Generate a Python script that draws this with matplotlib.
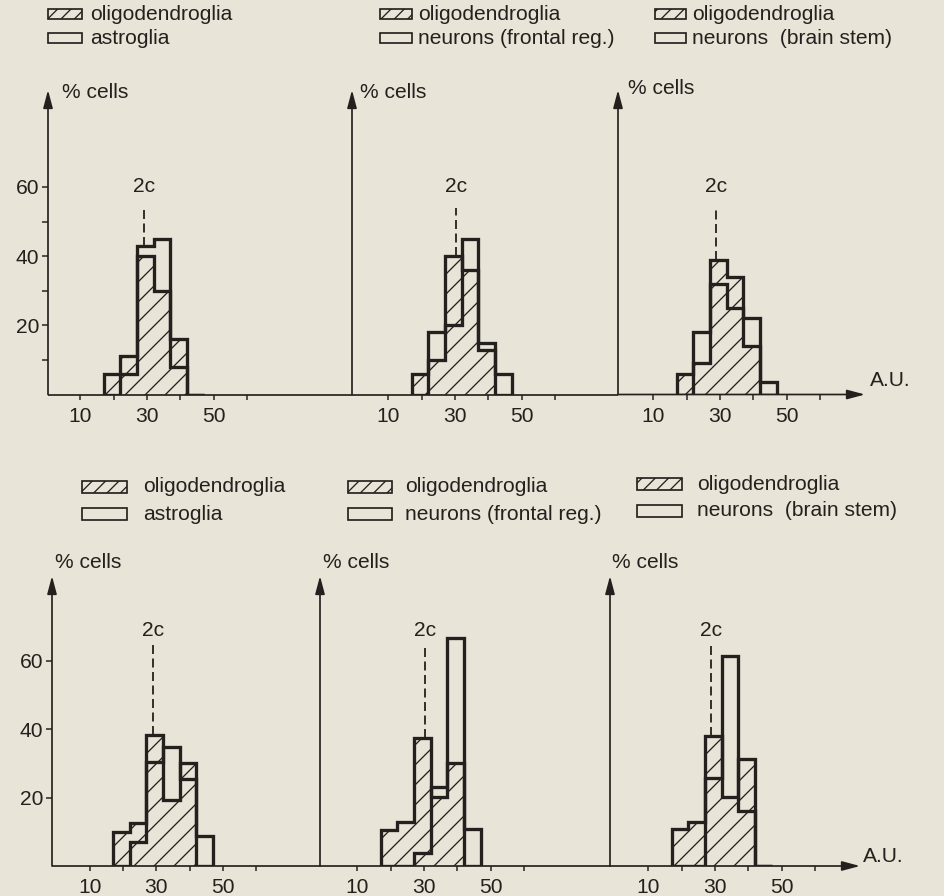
import matplotlib
matplotlib.use('Agg')
import matplotlib.pyplot as plt
from matplotlib.patches import Rectangle
import numpy as np

# ---------------- data ----------------
bin_edges = [17, 22, 27, 32, 37, 42, 47]          # A.U. (DNA content classes)

# top row
oligo_tl = [6, 11, 40, 30, 16, 0]
astro_tl = [0, 6, 43, 45, 8, 0]
oligo_tm = [6, 10, 40, 36, 13, 0]
neur_front_tm = [0, 18, 20, 45, 15, 6]
oligo_tr = [6, 9, 39, 34, 14, 0]
neur_stem_tr = [0, 18, 32, 25, 22, 3.5]
# bottom row
oligo_bl = [10, 12.7, 38.4, 19.4, 30, 0]
astro_bl = [0, 7, 30.4, 34.8, 25.5, 8.8]
oligo_bm = [10.5, 13, 37.4, 20.3, 30.2, 0]
neur_front_bm = [0, 0, 3.7, 23.2, 66.6, 10.7]
oligo_br = [10.7, 13, 38, 20.3, 31.4, 0]
neur_stem_br = [0, 0, 25.6, 61.3, 16, 0]

oligo_series = [oligo_tl, oligo_tm, oligo_tr, oligo_bl, oligo_bm, oligo_br]
other_series = [astro_tl, neur_front_tm, neur_stem_tr, astro_bl, neur_front_bm, neur_stem_br]

oligo_label = 'oligodendroglia'
other_labels = ['astroglia', 'neurons (frontal reg.)', 'neurons  (brain stem)']

pos_2c = [29.2, 30.3, 28.7, 29.0, 30.3, 28.7]

x_major = [10, 30, 50]
x_minor = [20, 40, 60]
y_major = [20, 40, 60]
y_minor = [10, 30, 50]

# ---------------- style / layout ----------------
W, H = 944, 896
DPI = 120
INK = '#24201d'
PAPER = '#e8e4d8'


def pt(px):
    return px * 72.0 / DPI


FS = pt(21)
plt.rcParams['font.family'] = ['Liberation Sans', 'DejaVu Sans']
plt.rcParams['hatch.linewidth'] = pt(1.3)
plt.rcParams['hatch.color'] = INK


def fx(px):
    return px / W


def fy(py):
    return 1 - py / H


PPU_X = 3.33
rows = [dict(base=394.5, tip=90, ppu=3.46, lab2c=60, dash2c=54),
        dict(base=866, tip=576, ppu=3.42, lab2c=69, dash2c=65)]

# (axis px, px of value 0, right px)
panel_x = [(48, 47, 352), (352, 355, 618), (618, 620, 865),
           (52, 56.5, 320), (320, 324, 610), (610, 615, 860)]

cells_pos = [(62, 92), (360, 92), (628, 88), (55, 562), (323, 562), (612, 562)]
au_pos = {2: (870, 381), 5: (863, 857)}

legend_layout = [
    dict(bx=(48, 82), rows=(14, 38), h=10, tx=90),
    dict(bx=(380, 412), rows=(14, 38), h=10, tx=418),
    dict(bx=(655, 686), rows=(14, 38), h=10, tx=692),
    dict(bx=(82, 127), rows=(487, 514), h=12, tx=143),
    dict(bx=(348, 392), rows=(487, 514), h=12, tx=405),
    dict(bx=(637, 682), rows=(484, 511), h=12, tx=697),
]

fig = plt.figure(figsize=(W / DPI, H / DPI), dpi=DPI)
fig.patch.set_facecolor(PAPER)

LW_AX = pt(1.7)
LW_H = pt(3.3)

for i in range(6):
    r = rows[i // 3]
    col = i % 3
    axis_px, zero_px, right_px = panel_x[i]
    ax = fig.add_axes([fx(axis_px), fy(r['base']), (right_px - axis_px) / W,
                       (r['base'] - r['tip']) / H])
    ax.patch.set_visible(False)
    for s in ax.spines.values():
        s.set_visible(False)
    ax.set_xlim((axis_px - zero_px) / PPU_X, (right_px - zero_px) / PPU_X)
    ax.set_ylim(0, (r['base'] - r['tip']) / r['ppu'])

    # y axis with arrow
    ax.annotate('', xy=(0, 1), xytext=(0, 0), xycoords='axes fraction',
                arrowprops=dict(arrowstyle='-|>,head_length=0.75,head_width=0.2',
                                lw=LW_AX, color=INK, shrinkA=0, shrinkB=0,
                                mutation_scale=pt(20)), annotation_clip=False)
    # x axis (arrow on last panel of the row)
    if col == 2:
        ax.annotate('', xy=(1, 0), xytext=(0, 0), xycoords='axes fraction',
                    arrowprops=dict(arrowstyle='-|>,head_length=0.75,head_width=0.2',
                                    lw=LW_AX, color=INK, shrinkA=0, shrinkB=0,
                                    mutation_scale=pt(20)), annotation_clip=False)
    else:
        ax.plot([0, 1], [0, 0], transform=ax.transAxes, color=INK, lw=LW_AX,
                clip_on=False, solid_capstyle='butt')

    # histograms
    oligo = oligo_series[i]
    other = other_series[i]
    ax.stairs(other, bin_edges, baseline=0, fill=False, color=INK, lw=LW_H)
    ax.stairs(oligo, bin_edges, baseline=0, fill=True, facecolor='none',
              edgecolor=INK, hatch='//', lw=LW_H)

    # 2c marker
    x2 = pos_2c[i]
    k = int(np.searchsorted(bin_edges, x2)) - 1
    top_bar = max(oligo[k], other[k])
    ax.plot([x2, x2], [top_bar, r['dash2c']], color=INK, lw=pt(1.8),
            linestyle=(0, (5, 2.5)))
    ax.text(x2, r['lab2c'], '2c', ha='center', va='center', fontsize=FS, color=INK)

    # ticks
    ax.set_xticks(x_major)
    ax.set_xticks(x_minor, minor=True)
    ax.set_xticklabels([str(v) for v in x_major])
    ax.tick_params(axis='x', which='both', direction='out', length=pt(5),
                   width=pt(1.5), color=INK, labelsize=FS, labelcolor=INK, pad=pt(7))
    if col == 0:
        ax.set_yticks(y_major)
        ax.set_yticklabels([str(v) for v in y_major])
        if i == 0:
            ax.set_yticks(y_minor, minor=True)
        ax.tick_params(axis='y', which='both', direction='out', length=pt(6),
                       width=pt(1.5), color=INK, labelsize=FS, labelcolor=INK, pad=pt(3))
    else:
        ax.set_yticks([])

    # labels
    cx, cy = cells_pos[i]
    fig.text(fx(cx), fy(cy), '% cells', ha='left', va='center', fontsize=FS, color=INK)
    if i in au_pos:
        ax_, ay_ = au_pos[i]
        fig.text(fx(ax_), fy(ay_), 'A.U.', ha='left', va='center', fontsize=FS, color=INK)

    # legend
    L = legend_layout[i]
    x0, x1 = L['bx']
    for j, (lab, hatch) in enumerate([(oligo_label, '///'), (other_labels[col], None)]):
        yc = L['rows'][j]
        rect = Rectangle((fx(x0), fy(yc + L['h'] / 2)), (x1 - x0) / W, L['h'] / H,
                         transform=fig.transFigure, facecolor='none', edgecolor=INK,
                         lw=pt(1.7), hatch=hatch)
        fig.add_artist(rect)
        fig.text(fx(L['tx']), fy(yc), lab, ha='left', va='center', fontsize=FS, color=INK)

fig.savefig('out.png', dpi=DPI, facecolor=PAPER)
